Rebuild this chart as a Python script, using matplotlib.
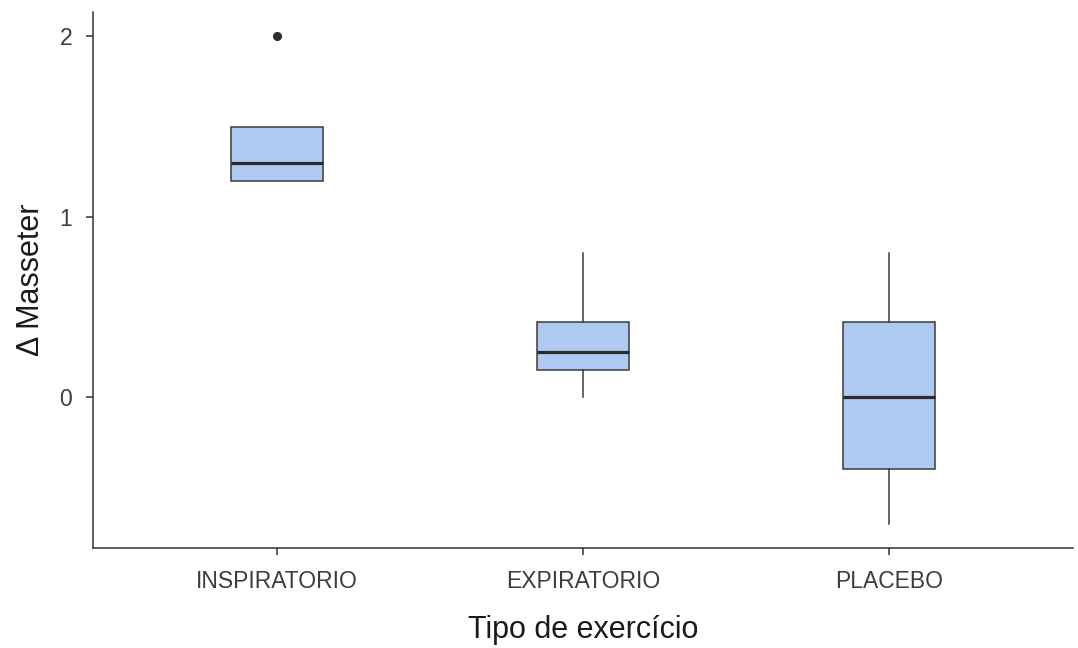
import matplotlib
matplotlib.use("Agg")
import matplotlib.pyplot as plt

plt.rcParams['font.family'] = ['Liberation Sans', 'DejaVu Sans']

# Exercise groups and their box-plot summaries (Δ Masseter)
categories = ["INSPIRATORIO", "EXPIRATORIO", "PLACEBO"]
q1 = [1.2, 0.15, -0.4]
medians = [1.3, 0.25, 0.0]
q3 = [1.5, 0.42, 0.42]
whisker_low = [1.2, 0.0, -0.7]
whisker_high = [1.5, 0.8, 0.8]
outliers = [[2.0], [], []]

fill_color = "#aec9f2"
edge_color = "#3a3a3a"

stats = []
for i, name in enumerate(categories):
    stats.append(dict(label=name, med=medians[i], q1=q1[i], q3=q3[i],
                      whislo=whisker_low[i], whishi=whisker_high[i],
                      fliers=outliers[i]))

fig = plt.figure(figsize=(10.78, 6.48), dpi=100)
ax = fig.add_axes([93 / 1078, 1 - 548 / 648, (1073 - 93) / 1078, (548 - 12) / 648])

positions = list(range(1, len(categories) + 1))
ax.bxp(stats, positions=positions, widths=0.3, patch_artist=True,
       showcaps=False,
       boxprops=dict(facecolor=fill_color, edgecolor=edge_color, linewidth=1.1),
       medianprops=dict(color="#2b2b2b", linewidth=2.3),
       whiskerprops=dict(color=edge_color, linewidth=1.1),
       flierprops=dict(marker="o", markersize=5.5, markerfacecolor="#2b2b2b",
                       markeredgecolor="#2b2b2b"))

ax.set_xlim(0.4, 3.6)
ax.set_ylim(-0.835, 2.135)
ax.set_yticks([0, 1, 2])
ax.set_xticks(positions)
ax.set_xticklabels(categories)

for side in ["top", "right"]:
    ax.spines[side].set_visible(False)
for side in ["left", "bottom"]:
    ax.spines[side].set_color("#333333")
    ax.spines[side].set_linewidth(1.1)

ax.tick_params(axis="both", colors="#333333", length=5, width=1.1,
               labelsize=16.5, labelcolor="#3d3d3d", pad=10)
ax.tick_params(axis="x", pad=11)

ax.set_xlabel("Tipo de exercício", fontsize=22, color="#1a1a1a", labelpad=16)
ax.set_ylabel("Δ Masseter", fontsize=22, color="#1a1a1a", labelpad=10)

fig.savefig("out.png", dpi=100, facecolor="white")
